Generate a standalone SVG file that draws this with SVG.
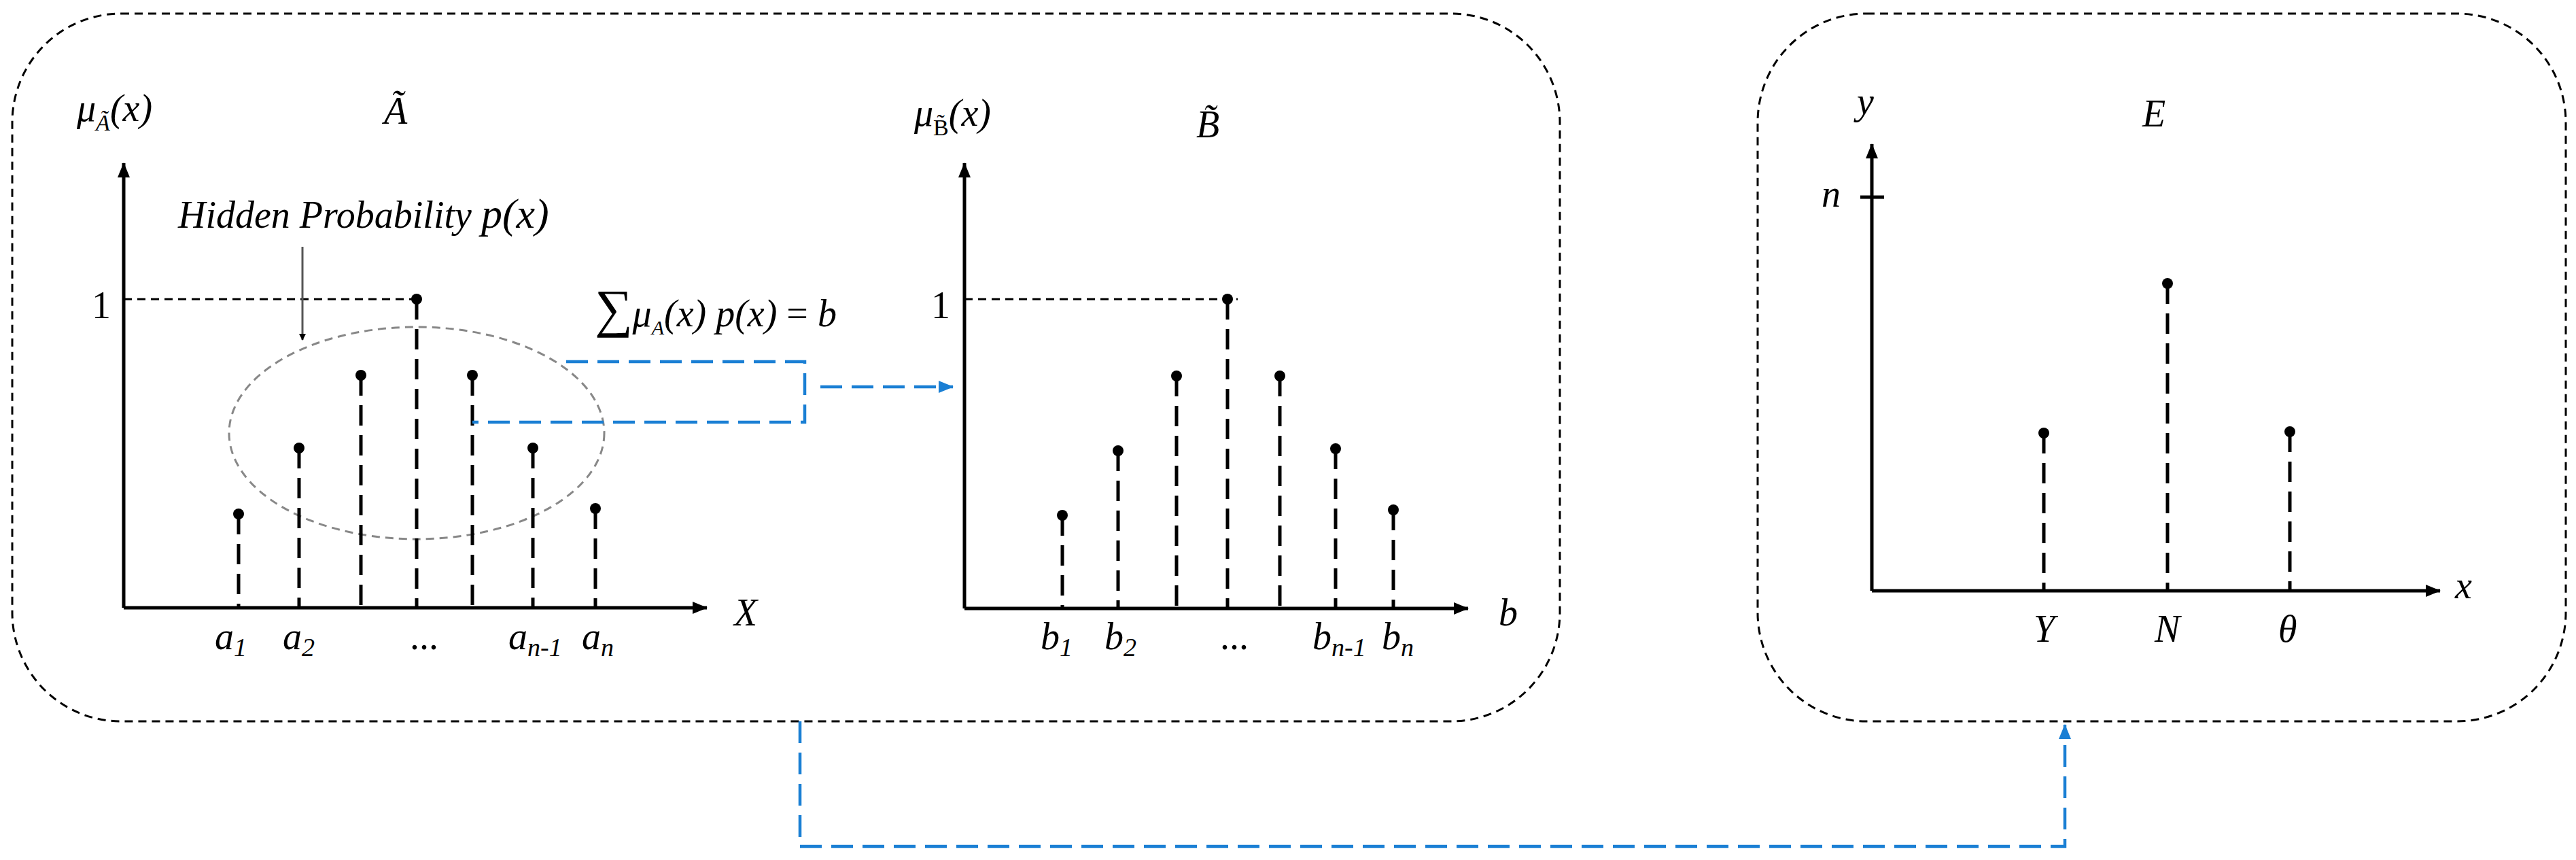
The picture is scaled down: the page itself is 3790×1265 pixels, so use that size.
<svg xmlns="http://www.w3.org/2000/svg" width="3790" height="1265" viewBox="0 0 3790 1265">
<style>
.box{fill:none;stroke:#000;stroke-width:3;stroke-dasharray:12 8}
.ax{stroke:#000;stroke-width:5;fill:none}
.stem{stroke:#000;stroke-width:5;stroke-dasharray:30 14}
.ref{stroke:#000;stroke-width:3;stroke-dasharray:12 8}
.blue{stroke:#1a7fd4;stroke-width:4.5;fill:none;stroke-dasharray:32 14}
text{font-family:"Liberation Serif",serif;font-style:italic;fill:#000;font-size:56px}
.up{font-style:normal}
</style>
<defs>
<marker id="ah" markerWidth="10" markerHeight="10" refX="9" refY="5" orient="auto" markerUnits="userSpaceOnUse" viewBox="0 0 10 10"><path d="M0,0L10,5L0,10z" fill="#000"/></marker>
<marker id="ah2" markerWidth="22" markerHeight="18" refX="21" refY="9" orient="auto" markerUnits="userSpaceOnUse"><path d="M0,0L22,9L0,18z" fill="#000"/></marker>
<marker id="bh" markerWidth="22" markerHeight="18" refX="21" refY="9" orient="auto" markerUnits="userSpaceOnUse"><path d="M0,0L22,9L0,18z" fill="#1a7fd4"/></marker>
</defs>
<g id="box-left"><rect class="box" x="18" y="20" width="2277" height="1041" rx="160"/></g>
<g id="box-right"><rect class="box" x="2586" y="20" width="1189" height="1041" rx="160"/></g>

<g id="chartA">
<line class="ax" x1="182" y1="894" x2="182" y2="240" marker-end="url(#ah2)"/>
<line class="ax" x1="182" y1="894" x2="1040" y2="894" marker-end="url(#ah2)"/>
<text x="113" y="178" font-size="66">μ<tspan font-size="34" dy="14">Ã</tspan><tspan dy="-14">(</tspan>x<tspan>)</tspan></text>
<text x="565" y="182" font-size="60">Ã</text>
<text x="135" y="468" class="up" font-size="60">1</text>
<line class="ref" x1="182" y1="440" x2="613" y2="440"/>
<text x="1080" y="920" font-size="62">X</text>
<text x="262" y="335" font-size="54">Hidden Probability <tspan font-size="62">p(x)</tspan></text>
<line x1="445" y1="363" x2="445" y2="500" stroke="#555" stroke-width="3" marker-end="url(#ah)"/>
<ellipse cx="613" cy="637" rx="276" ry="156" fill="none" stroke="#888" stroke-width="3" stroke-dasharray="12 8"/>
<g fill="#000">
<line class="stem" x1="351" y1="756" x2="351" y2="894"/><circle cx="351" cy="756" r="8"/>
<line class="stem" x1="440" y1="659" x2="440" y2="894"/><circle cx="440" cy="659" r="8"/>
<line class="stem" x1="531" y1="552" x2="531" y2="894"/><circle cx="531" cy="552" r="8"/>
<line class="stem" x1="613" y1="440" x2="613" y2="894"/><circle cx="613" cy="440" r="8"/>
<line class="stem" x1="695" y1="552" x2="695" y2="894"/><circle cx="695" cy="552" r="8"/>
<line class="stem" x1="784" y1="659" x2="784" y2="894"/><circle cx="784" cy="659" r="8"/>
<line class="stem" x1="876" y1="748" x2="876" y2="894"/><circle cx="876" cy="748" r="8"/>
</g>
<text x="316" y="955">a<tspan font-size="38" dy="10">1</tspan></text>
<text x="416" y="955">a<tspan font-size="38" dy="10">2</tspan></text>
<text x="603" y="955" class="up">...</text>
<text x="748" y="955">a<tspan font-size="38" dy="10">n-1</tspan></text>
<text x="856" y="955">a<tspan font-size="38" dy="10">n</tspan></text>
</g>

<g id="formula">
<text x="875" y="480" font-size="60"><tspan class="up" font-size="78">∑</tspan>μ<tspan font-size="30" dy="12">A</tspan><tspan dy="-12">(x) p(x)</tspan><tspan class="up"> = </tspan>b</text>
</g>

<g id="chartB">
<line class="ax" x1="1419" y1="895" x2="1419" y2="240" marker-end="url(#ah2)"/>
<line class="ax" x1="1419" y1="895" x2="2160" y2="895" marker-end="url(#ah2)"/>
<text x="1345" y="185" font-size="66">μ<tspan class="up" font-size="34" dy="14">B̃</tspan><tspan dy="-14">(</tspan>x<tspan>)</tspan></text>
<text x="1760" y="202" font-size="60">B̃</text>
<text x="1370" y="468" class="up" font-size="60">1</text>
<line class="ref" x1="1419" y1="440" x2="1821" y2="440"/>
<text x="2205" y="920" font-size="62">b</text>
<g fill="#000">
<line class="stem" x1="1563" y1="758" x2="1563" y2="895"/><circle cx="1563" cy="758" r="8"/>
<line class="stem" x1="1645" y1="663" x2="1645" y2="895"/><circle cx="1645" cy="663" r="8"/>
<line class="stem" x1="1731" y1="553" x2="1731" y2="895"/><circle cx="1731" cy="553" r="8"/>
<line class="stem" x1="1806" y1="440" x2="1806" y2="895"/><circle cx="1806" cy="440" r="8"/>
<line class="stem" x1="1883" y1="553" x2="1883" y2="895"/><circle cx="1883" cy="553" r="8"/>
<line class="stem" x1="1965" y1="660" x2="1965" y2="895"/><circle cx="1965" cy="660" r="8"/>
<line class="stem" x1="2050" y1="750" x2="2050" y2="895"/><circle cx="2050" cy="750" r="8"/>
</g>
<text x="1531" y="955">b<tspan font-size="38" dy="10">1</tspan></text>
<text x="1625" y="955">b<tspan font-size="38" dy="10">2</tspan></text>
<text x="1795" y="955" class="up">...</text>
<text x="1931" y="955">b<tspan font-size="38" dy="10">n-1</tspan></text>
<text x="2033" y="955">b<tspan font-size="38" dy="10">n</tspan></text>
</g>

<g id="chartE">
<line class="ax" x1="2754" y1="869" x2="2754" y2="212" marker-end="url(#ah2)"/>
<line class="ax" x1="2754" y1="869" x2="3590" y2="869" marker-end="url(#ah2)"/>
<line class="ax" x1="2737" y1="290" x2="2772" y2="290"/>
<text x="2732" y="168" font-size="60">y</text>
<text x="3152" y="186" font-size="60">E</text>
<text x="2680" y="304" font-size="60">n</text>
<text x="3612" y="880" font-size="60">x</text>
<g fill="#000">
<line class="stem" x1="3007" y1="637" x2="3007" y2="869"/><circle cx="3007" cy="637" r="8"/>
<line class="stem" x1="3189" y1="417" x2="3189" y2="869"/><circle cx="3189" cy="417" r="8"/>
<line class="stem" x1="3369" y1="635" x2="3369" y2="869"/><circle cx="3369" cy="635" r="8"/>
</g>
<text x="2992" y="944" font-size="60">Y</text>
<text x="3170" y="944" font-size="60">N</text>
<text x="3352" y="944" font-size="60">θ</text>
</g>

<g id="connectors">
<polyline class="blue" points="833,532 1184,532 1184,621 695,621"/>
<line class="blue" x1="1207" y1="569" x2="1402" y2="569" marker-end="url(#bh)"/>
<polyline class="blue" points="1177,1061 1177,1245 3038,1245 3038,1066" marker-end="url(#bh)"/>
</g>
</svg>
